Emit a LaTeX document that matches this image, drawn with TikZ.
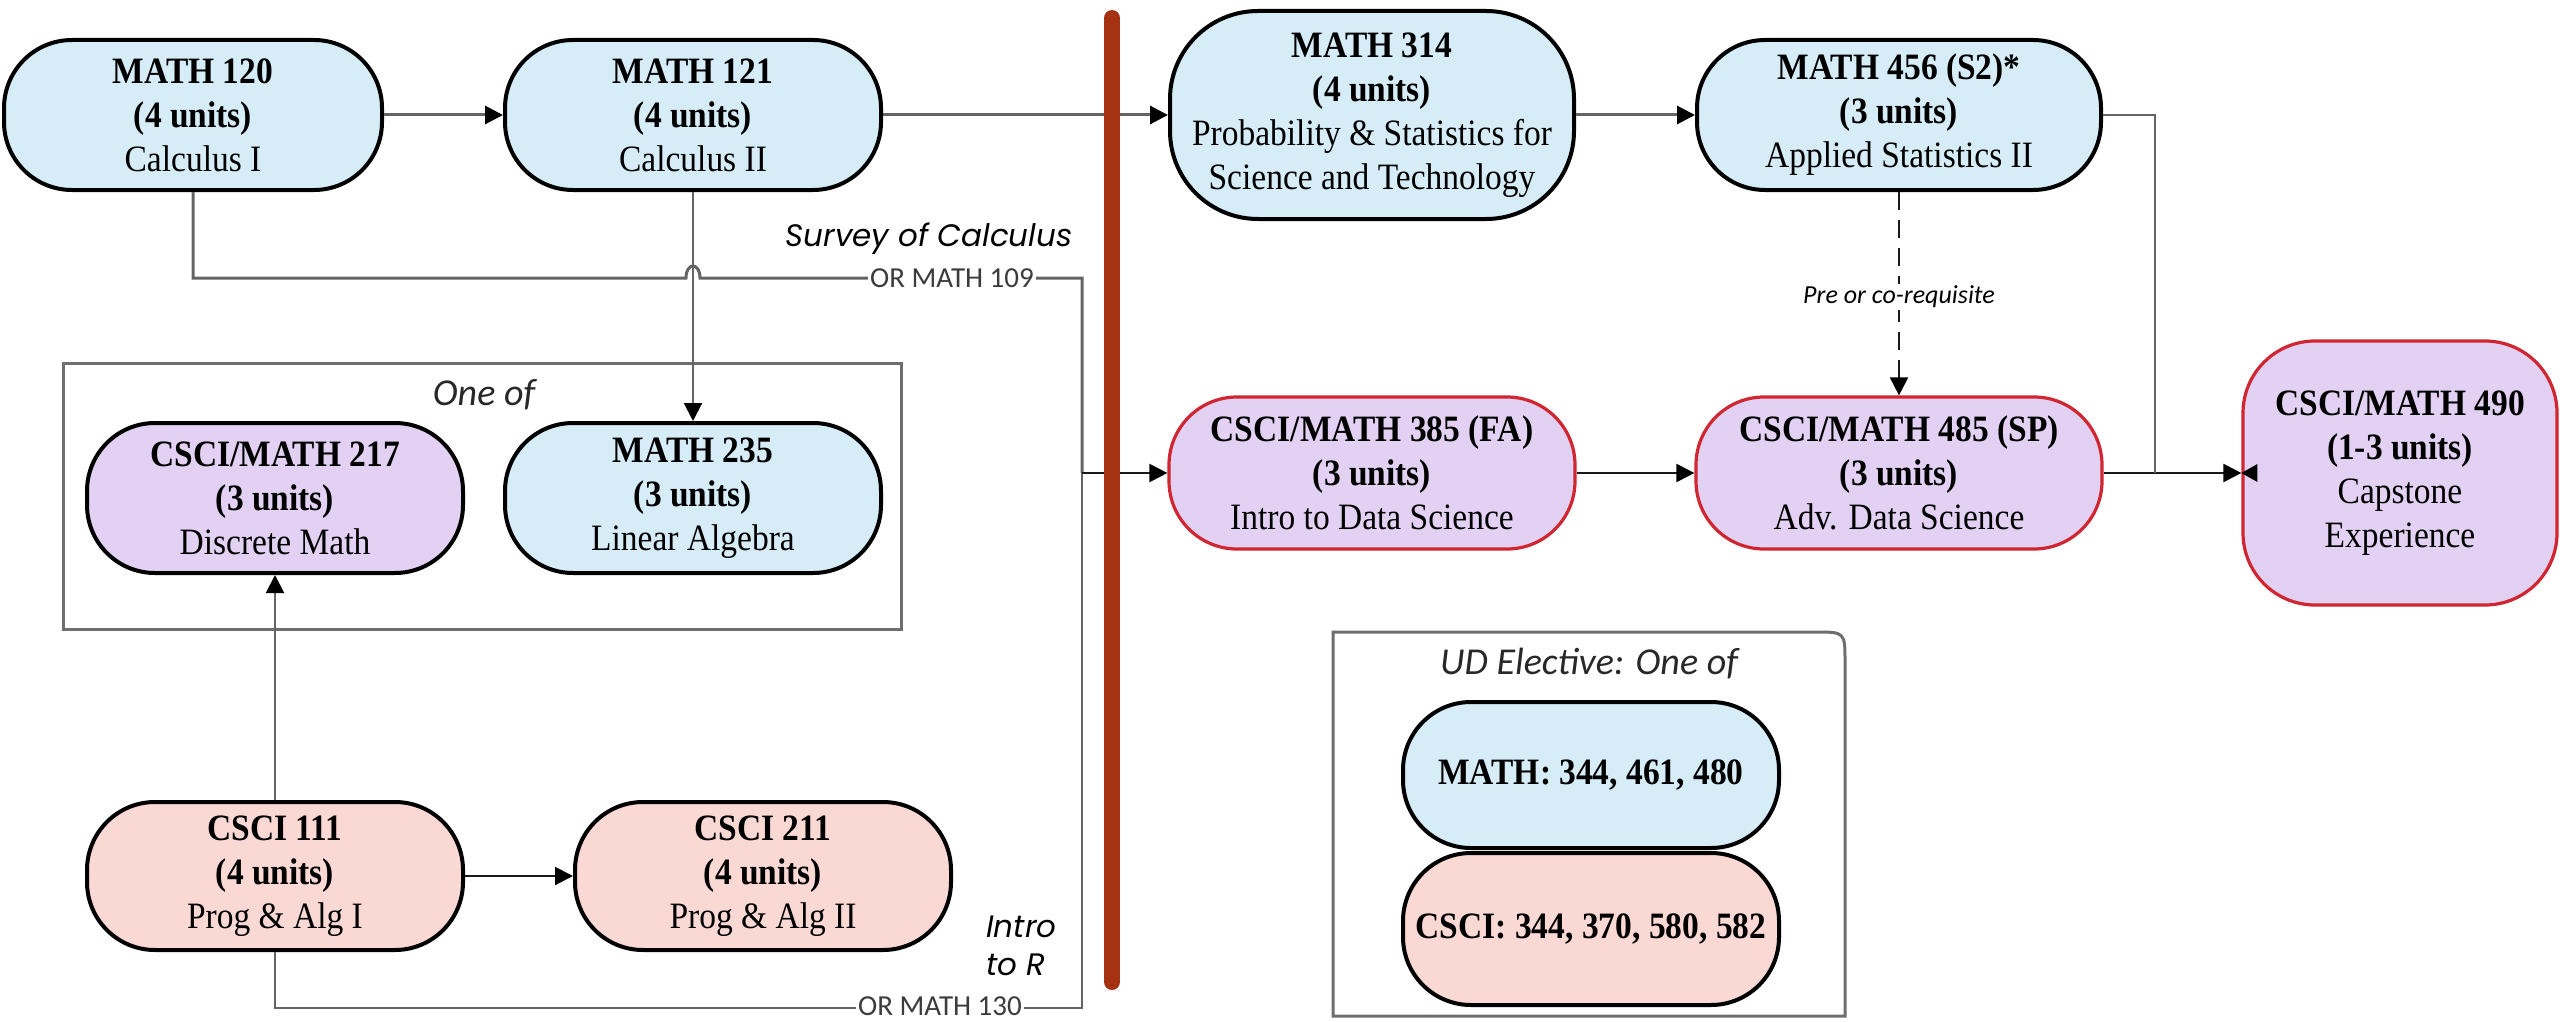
\documentclass[tikz,border=0pt]{standalone}
\usepackage{fontspec}
\setmainfont{Liberation Serif}[FakeStretch=0.9]
\newfontfamily\gothicfont{Poppins}
\newfontfamily\calfont{Carlito}
\usetikzlibrary{arrows.meta}

\tikzset{every picture/.style={line width=0.75pt}}
\tikzset{
  course/.style={draw, line width=2pt, rounded corners=34pt, align=center, inner sep=0pt, minimum width=188pt, minimum height=75pt, font=\fontsize{18.6}{22}\selectfont},
  mathbox/.style={course, fill={rgb, 255:red, 214; green, 237; blue, 248 }},
  progbox/.style={course, fill={rgb, 255:red, 250; green, 216; blue, 211 }},
  discbox/.style={course, fill={rgb, 255:red, 226; green, 209; blue, 242 }},
  dsbox/.style={course, line width=1.6pt, draw={rgb, 255:red, 208; green, 38; blue, 50 }, fill={rgb, 255:red, 226; green, 209; blue, 242 }},
  conn/.style={draw={rgb, 255:red, 100; green, 100; blue, 100 }, line width=1.5pt},
  rowconn/.style={draw={rgb, 255:red, 25; green, 25; blue, 25 }, line width=1pt},
  tip/.style={-{Triangle[length=9pt,width=9pt,color=black]}},
  linelabel/.style={fill=white, inner sep=1pt, text={rgb, 255:red, 60; green, 60; blue, 60 }, font=\calfont\fontsize{14.5}{15}\selectfont},
  grouptitle/.style={inner sep=0.75pt, text={rgb, 255:red, 40; green, 40; blue, 40 }, font=\calfont\itshape\fontsize{19}{20}\selectfont},
  notelabel/.style={inner sep=0.75pt, align=left, font=\gothicfont\itshape\fontsize{15.5}{19}\selectfont},
}

\begin{document}
\begin{tikzpicture}[x=0.5pt,y=0.5pt,yscale=-1,xscale=1]
\useasboundingbox (0,0) rectangle (2560,1022);
%Shape: Rectangle [id:oneofbox]
\draw [color={rgb, 255:red, 110; green, 110; blue, 110 }, line width=1.5pt] (63,363) rectangle (901,629);
% Text Node
\node [grouptitle] (oneof) at (484,395) {One of};
%Shape: Elective box [id:electbox]
\draw [color={rgb, 255:red, 110; green, 110; blue, 110 }, line width=1.5pt] (1845,1016) -- (1333,1016) -- (1333,632) -- (1815,632) .. controls (1845,632) .. (1845,662) -- cycle;
% Text Node
\node [grouptitle] (udtitle) at (1589,664) {UD Elective: One of};

%Rounded Rect: lower division
\node [mathbox, minimum width=189pt] (m120) at (193,115) {\textbf{MATH 120}\\\textbf{(4 units)}\\Calculus I};
\node [mathbox] (m121) at (693,115) {\textbf{MATH 121}\\\textbf{(4 units)}\\Calculus II};
\node [discbox] (c217) at (275,498) {\textbf{CSCI/MATH 217}\\\textbf{(3 units)}\\Discrete Math};
\node [mathbox] (m235) at (693,498) {\textbf{MATH 235}\\\textbf{(3 units)}\\Linear Algebra};
\node [progbox, minimum height=74pt] (c111) at (275,876) {\textbf{CSCI 111}\\\textbf{(4 units)}\\Prog \& Alg I};
\node [progbox, minimum height=74pt] (c211) at (763,876) {\textbf{CSCI 211}\\\textbf{(4 units)}\\Prog \& Alg II};
%Rounded Rect: upper division
\node [mathbox, minimum width=202pt, minimum height=104pt, rounded corners=44pt] (m314) at (1372,115) {\textbf{MATH 314}\\\textbf{(4 units)}\\Probability \& Statistics for\\Science and Technology};
\node [mathbox, minimum width=202pt] (m456) at (1899,115) {\textbf{MATH 456 (S2)*}\\\textbf{(3 units)}\\Applied Statistics II};
\node [dsbox, minimum width=203pt, minimum height=76pt] (c385) at (1372,473) {\textbf{CSCI/MATH 385 (FA)}\\\textbf{(3 units)}\\Intro to Data Science};
\node [dsbox, minimum width=203pt, minimum height=76pt] (c485) at (1899,473) {\textbf{CSCI/MATH 485 (SP)}\\\textbf{(3 units)}\\Adv. Data Science};
\node [dsbox, minimum width=157pt, minimum height=132pt, rounded corners=36pt] (c490) at (2400,473) {\textbf{CSCI/MATH 490}\\\textbf{(1-3 units)}\\Capstone\\Experience};
%Rounded Rect: electives
\node [mathbox, minimum height=73pt] (emath) at (1591,775) {\textbf{MATH: 344, 461, 480}};
\node [progbox, minimum height=76pt] (ecsci) at (1591,929) {\textbf{CSCI: 344, 370, 580, 582}};

\coordinate (j1) at (1082,473);
\coordinate (j2) at (2155,473);
%Straight Lines
\draw [conn, tip] (m120) -- (m121);
\draw [conn, tip] (m121) -- (m314);
\draw [conn, tip] (m314) -- (m456);
\draw [conn, line width=1pt, tip] (m121) -- (m235);
\draw [conn, line width=1pt, tip] (c111) -- (c217);
\draw [rowconn, tip] (c111) -- (c211);
%Connector: survey of calculus
\draw [conn] (m120.south) |- (686,278) .. controls (686,262) and (700,262) .. (700,278) -| (j1);
\draw [conn, line width=1pt] (c111.south) -- ++(0,56) -| (j1);
\draw [rowconn, tip] (j1) -- (c385);
\draw [rowconn, tip] (c385) -- (c485);
\draw [rowconn, tip] (c485) -- (c490);
\fill (c490.west) -- ++(16,-9) -- ++(0,18) -- cycle;
\draw [conn, line width=1pt] (m456.east) -| (j2);
\draw [rowconn, dashed, dash pattern=on 9pt off 5pt, tip] (m456) -- (c485);
%Red divider
\draw [color={rgb, 255:red, 166; green, 50; blue, 20 }, line width=8pt, line cap=round] (1112,18) -- (1112,982);

% Text Node
\node [linelabel] (or109) at (952,278) {OR MATH 109};
\node [linelabel] (or130) at (940,1006) {OR MATH 130};
\node [notelabel] (survey) at (929,239) {Survey of Calculus};
\node [notelabel, anchor=west] (intror) at (984,946) {Intro\\to R};
\node [linelabel, text=black, font=\calfont\itshape\fontsize{13}{14}\selectfont] (coreq) at (1899,297) {Pre or co-requisite};
\end{tikzpicture}
\end{document}
